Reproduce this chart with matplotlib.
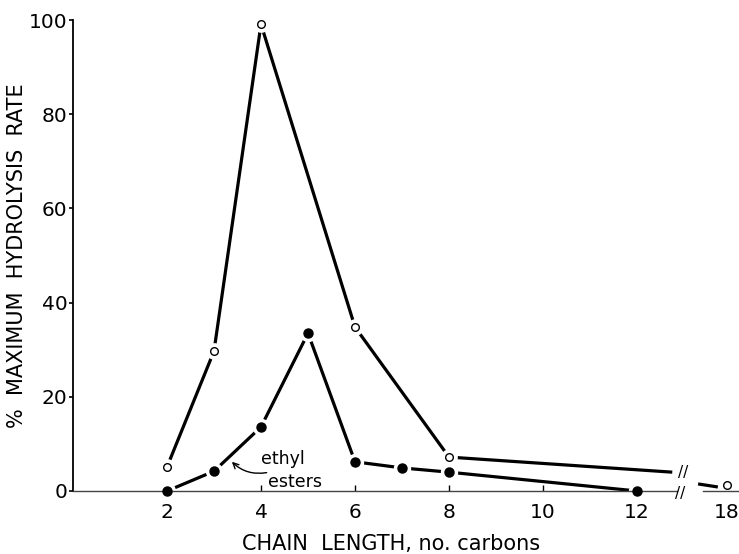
import matplotlib
matplotlib.use("Agg")
import matplotlib.pyplot as plt

# ---- data (x positions on the broken axis: 18 carbons is drawn at position ~14) ----
tick_pos = [2, 4, 6, 8, 10, 12, 13.9]
tick_labels = ["2", "4", "6", "8", "10", "12", "18"]
y_ticks = [0, 20, 40, 60, 80, 100]

open_x = [2, 3, 4, 6, 8]
open_y = [5.1, 29.7, 99.1, 34.8, 7.2]
open_x_end = [8, 12.75]          # line toward the axis break
open_y_end = [7.2, 4.0]
open_x_after = [13.3, 13.72]     # short segment after the break
open_y_after = [1.5, 0.85]
open18_x = [13.92]
open18_y = [1.3]

ester_x = [2, 3, 4, 5, 6, 7, 8, 12]
ester_y = [0, 4.2, 13.6, 33.5, 6.2, 4.9, 4.0, 0]

plt.rcParams['font.family'] = ['DejaVu Sans']
fig = plt.figure(figsize=(7.39, 5.54), dpi=100)
ax = fig.add_axes([73/739, 63/554, 666/739, 471/554])
ax.set_xlim(0, 14.17)
ax.set_ylim(0, 100)

lw = 2.3
# lines
ax.plot(open_x, open_y, color='black', lw=lw, zorder=2, solid_capstyle='butt')
ax.plot(open_x_end, open_y_end, color='black', lw=lw, zorder=2, solid_capstyle='butt')
ax.plot(open_x_after, open_y_after, color='black', lw=lw, zorder=2, solid_capstyle='butt')
ax.plot(ester_x, ester_y, color='black', lw=lw, zorder=2, solid_capstyle='butt')

# white halos to produce gaps near markers
ax.plot(open_x + open18_x, open_y + open18_y, ls='none', marker='o', ms=11,
        mfc='white', mec='white', zorder=3, clip_on=False)
ax.plot(ester_x, ester_y, ls='none', marker='o', ms=11.5,
        mfc='white', mec='white', zorder=3, clip_on=False)

# x axis line with break
ax.plot([0, 12.85], [0, 0], color='#444444', lw=1.0, zorder=3.5, clip_on=False)
ax.plot([13.4, 14.17], [0, 0], color='#444444', lw=1.0, zorder=3.5, clip_on=False)
ax.text(12.92, -0.6, "//", fontsize=11, ha='center', va='center', zorder=4)
ax.text(12.98, 3.9, "//", fontsize=11, ha='center', va='center', zorder=4)

# markers
ax.plot(open_x + open18_x, open_y + open18_y, ls='none', marker='o', ms=5.5,
        mfc='white', mec='black', mew=1.0, zorder=5, clip_on=False)
ax.plot(ester_x, ester_y, ls='none', marker='o', ms=6.5,
        mfc='black', mec='black', zorder=5, clip_on=False)

# annotation
ax.text(4.0, 5.8, "ethyl", fontsize=12.5, ha='left', va='baseline')
ax.text(4.15, 0.8, "esters", fontsize=12.5, ha='left', va='baseline')
ax.annotate("", xy=(3.38, 6.2), xytext=(4.12, 3.9),
            arrowprops=dict(arrowstyle='->', lw=1.0, color='black',
                            connectionstyle='arc3,rad=-0.25', shrinkA=0, shrinkB=0))

# spines and ticks
for s in ['top', 'right', 'bottom']:
    ax.spines[s].set_visible(False)
ax.spines['left'].set_linewidth(1.3)
ax.set_xticks(tick_pos)
ax.set_xticklabels(tick_labels)
ax.set_yticks(y_ticks)
ax.tick_params(axis='x', direction='in', length=4, width=1.0, pad=9, labelsize=14.5)
ax.tick_params(axis='y', direction='out', length=3, width=1.2, pad=1, labelsize=14.5)

fig.text(17/739, 1 - 256/554, "%  MAXIMUM  HYDROLYSIS  RATE", fontsize=15,
         rotation=90, ha='center', va='center')
fig.text(391/739, 1 - 550/554, "CHAIN  LENGTH, no. carbons", fontsize=15,
         ha='center', va='baseline')

fig.savefig("out.png", dpi=100)
